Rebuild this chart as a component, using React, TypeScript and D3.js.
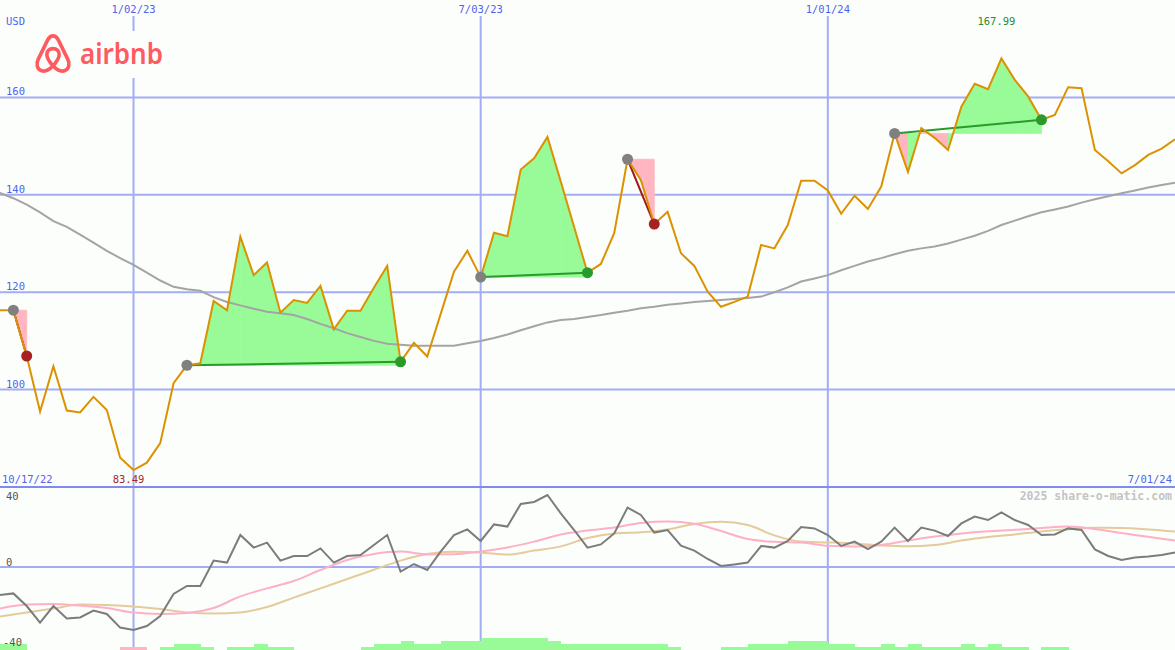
import React from "react";
import * as d3 from "d3";

// ---------- DATA ----------
const startDate = new Date(2022, 9, 24);
const endDate = new Date(2024, 6, 1);

// weekly closing prices (USD)
const price = [
  116.3, 116.3, 106.9, 95.5, 104.8, 95.7, 95.3, 98.5, 95.8, 86.0,
  83.49, 85.0, 89.0, 101.3, 105.0, 105.4, 118.2, 116.3, 131.4, 123.5,
  126.1, 115.8, 118.4, 117.8, 121.3, 112.4, 116.2, 116.2, 120.9, 125.4,
  105.7, 109.6, 106.8, 115.5, 124.2, 128.5, 123.1, 132.2, 131.5, 145.2,
  147.5, 151.9, 142.7, 133.4, 124.0, 125.8, 132.1, 147.3, 143.0, 134.0,
  136.5, 128.0, 125.4, 120.1, 117.0, 118.0, 119.1, 129.7, 129.0, 133.8,
  142.9, 142.9, 140.9, 136.1, 139.8, 137.1, 141.7, 152.6, 144.7, 153.7,
  151.7, 149.2, 158.1, 162.8, 161.7, 167.99, 163.6, 160.2, 155.4, 156.4,
  162.1, 161.9, 149.2, 146.9, 144.4, 146.1, 148.2, 149.5, 151.4,
];

// long moving average (weekly)
const movingAvg = [
  140.4, 139.3, 138.0, 136.4, 134.6, 133.4, 131.8, 130.2, 128.5, 127.0,
  125.6, 124.0, 122.4, 121.1, 120.6, 120.3, 119.0, 118.0, 117.3, 116.6,
  116.0, 115.7, 115.3, 114.5, 113.5, 112.6, 111.6, 110.8, 110.0, 109.4,
  109.2, 109.0, 109.0, 109.0, 109.0, 109.5, 110.0, 110.6, 111.3, 112.2,
  113.0, 113.8, 114.3, 114.5, 114.9, 115.3, 115.8, 116.2, 116.7, 117.0,
  117.4, 117.7, 118.0, 118.2, 118.4, 118.6, 118.8, 119.1, 120.0, 121.0,
  122.2, 122.8, 123.5, 124.5, 125.4, 126.3, 127.0, 127.8, 128.5, 129.0,
  129.4, 130.0, 130.8, 131.6, 132.6, 133.8, 134.7, 135.6, 136.4, 137.0,
  137.6, 138.4, 139.1, 139.7, 140.3, 140.9, 141.5, 142.0, 142.5,
];

// oscillator (weekly)
const momentum = [
  -14, -13.2, -19.5, -27.8, -19.5, -25.7, -25.2, -21.8, -23.5, -30.3,
  -31.5, -29.5, -24.5, -13.5, -9.5, -9.5, 3.2, 2.2, 16, 9.7,
  12.2, 3.2, 5.5, 5.5, 9.3, 2.2, 5.5, 6, 11, 16,
  -2.3, 1.5, -1.5, 7.7, 16, 18.8, 13, 21.3, 20.2, 31.5,
  32.5, 36, 26.8, 18.5, 9.7, 11.3, 16.8, 29.7, 26, 17.2,
  18.5, 10.7, 8.2, 4, 0.5, 1.3, 2.2, 10.5, 9.7, 13,
  20, 19.3, 16, 10.5, 12.7, 9, 12.7, 19.7, 13, 19.7,
  18.2, 15.5, 21.8, 25.2, 23.5, 27.3, 23.5, 21, 16, 16.3,
  19.3, 18.5, 8.8, 5.5, 3.5, 4.7, 5.2, 6, 7.2,
];

// smoothed signal lines, one value every 2 weeks
const pinkSignal = [
  -20.7, -18.8, -18.5, -19.3, -20.5, -22.8, -23.5, -23.0, -20.5, -14.7,
  -10.7, -7.0, -1.5, 3.5, 6.5, 7.7, 6.3, 6.4, 7.8, 9.8,
  12.7, 16.3, 18.2, 19.8, 22.0, 22.7, 21.6, 18.0, 14.0, 12.6,
  12.2, 10.6, 10.2, 11.0, 13.2, 15.2, 16.8, 17.9, 18.6, 19.5,
  20.2, 19.0, 17.0, 15.1, 13.2,
];
const tanSignal = [
  -24.8, -22.8, -20.8, -18.8, -19.0, -19.8, -21.0, -22.7, -23.2, -22.7,
  -20.0, -15.3, -10.7, -6.0, -1.4, 3.2, 6.5, 7.6, 7.3, 6.2,
  8.2, 10.3, 14.5, 16.8, 17.4, 18.8, 21.5, 22.6, 21.0, 15.8,
  12.7, 12.3, 11.8, 10.8, 10.4, 11.0, 13.2, 15.0, 16.3, 17.8,
  18.8, 19.6, 19.5, 18.8, 17.7,
];

// histogram at bottom (weekly)
const histogram = [
  2, 2, 0, 0, 0, 0, 0, 0, 0, -1,
  -1, 0, 1, 2, 2, 1, 0, 1, 1, 2,
  1, 1, 0, 0, 0, 0, 0, 1, 2, 2,
  3, 2, 2, 3, 3, 3, 4, 4, 4, 4,
  4, 3, 2, 2, 2, 2, 2, 2, 2, 2,
  1, 0, 0, 0, 1, 1, 2, 2, 2, 3,
  3, 3, 2, 2, 1, 1, 2, 1, 2, 1,
  1, 1, 2, 1, 2, 1, 1, 0, 1, 1,
  0, 0, 0, 0, 0, 0, 0, 0, 0,
];

// trades (week indices)
const tradeEntries = [1, 14, 36, 47, 67];
const tradeExits = [2, 30, 44, 49, 78];

const tickDates = [new Date(2023, 0, 2), new Date(2023, 6, 3), new Date(2024, 0, 1)];
const tickLabels = ["1/02/23", "7/03/23", "1/01/24"];
const priceTicks = [100, 120, 140, 160];
const oscTicks = [40, 0, -40];
const startLabel = "10/17/22";
const endLabel = "7/01/24";

// ---------- STYLE ----------
const W = 1175;
const H = 650;
const BG = "#fcfefc";
const GRID = "#a3aef2";
const SEP = "#7f8cee";
const BLUE_TXT = "#4f63ee";
const MONO = "'DejaVu Sans Mono', monospace";

export default function App() {
  const dates = price.map((_, i) => d3.timeDay.offset(startDate, 7 * i));
  const x = d3.scaleTime().domain([startDate, endDate]).range([0, W]);
  const y = d3.scaleLinear().domain([80, 180]).range([487, 0]);
  const yo = d3.scaleLinear().domain([-40, 40]).range([647, 487]);
  const yh = d3.scaleLinear().domain([0, 4]).range([650, 638]);

  const priceLine = d3
    .line<number>()
    .x((_, i) => x(dates[i]))
    .y((d) => y(d));
  const maLine = d3
    .line<number>()
    .x((_, i) => x(dates[i]))
    .y((d) => y(d));
  const momLine = d3
    .line<number>()
    .x((_, i) => x(dates[i]))
    .y((d) => yo(d));
  const sigLine = d3
    .line<number>()
    .x((_, i) => x(dates[i * 2]))
    .y((d) => yo(d))
    .curve(d3.curveMonotoneX);

  const minIdx = d3.minIndex(price);
  const maxIdx = d3.maxIndex(price);
  const fmt = d3.format(".2f");

  const fills: { pts: string; color: string }[] = [];
  tradeEntries.forEach((e, t) => {
    const ex = tradeExits[t];
    const lvl = price[e];
    for (let k = e; k < ex; k++) {
      const pts = [
        [x(dates[k]), y(price[k])],
        [x(dates[k + 1]), y(price[k + 1])],
        [x(dates[k + 1]), y(lvl)],
        [x(dates[k]), y(lvl)],
      ]
        .map((p) => p.join(","))
        .join(" ");
      fills.push({ pts, color: price[k + 1] >= lvl ? "#98fb98" : "#ffb6c1" });
    }
  });

  const bw = x(dates[1]) - x(dates[0]);

  return (
    <svg
      width={W}
      height={H}
      style={{ position: "absolute", left: 0, top: 0, display: "block" }}
    >
      <rect x={0} y={0} width={W} height={H} fill={BG} />

      {/* vertical grid */}
      {tickDates.map((d, i) => (
        <line key={"v" + i} x1={x(d)} x2={x(d)} y1={16} y2={H} stroke={GRID} strokeWidth={2} />
      ))}
      {/* horizontal price grid */}
      {priceTicks.map((v) => (
        <line key={"h" + v} x1={0} x2={W} y1={y(v)} y2={y(v)} stroke={GRID} strokeWidth={2} />
      ))}
      {/* oscillator zero line */}
      <line x1={0} x2={W} y1={yo(0)} y2={yo(0)} stroke={GRID} strokeWidth={2} />
      {/* panel separator */}
      <line x1={0} x2={W} y1={yo(40)} y2={yo(40)} stroke={SEP} strokeWidth={2} />

      {/* trade fills */}
      {fills.map((f, i) => (
        <polygon
          key={"f" + i}
          points={f.pts}
          fill={f.color}
          stroke={f.color}
          strokeWidth={0.8}
          strokeLinejoin="round"
        />
      ))}

      {/* moving average */}
      <path d={maLine(movingAvg) || ""} fill="none" stroke="#a4a4a4" strokeWidth={2} />

      {/* trade lines */}
      {tradeEntries.map((e, t) => {
        const ex = tradeExits[t];
        const win = price[ex] >= price[e];
        return (
          <line
            key={"tl" + t}
            x1={x(dates[e])}
            y1={y(price[e])}
            x2={x(dates[ex])}
            y2={y(price[ex])}
            stroke={win ? "#2a9a2a" : "#a01c1c"}
            strokeWidth={2}
          />
        );
      })}

      {/* price line */}
      <path d={priceLine(price) || ""} fill="none" stroke="#dc9200" strokeWidth={2} />

      {/* trade dots */}
      {tradeEntries.map((e, t) => {
        const ex = tradeExits[t];
        const win = price[ex] >= price[e];
        return (
          <g key={"td" + t}>
            <circle cx={x(dates[e])} cy={y(price[e])} r={5.5} fill="#808080" />
            <circle
              cx={x(dates[ex])}
              cy={y(price[ex])}
              r={5.5}
              fill={win ? "#2a9a2a" : "#a52222"}
            />
          </g>
        );
      })}

      {/* oscillator lines */}
      <path d={sigLine(tanSignal) || ""} fill="none" stroke="#e4cb9c" strokeWidth={2} />
      <path d={sigLine(pinkSignal) || ""} fill="none" stroke="#fdb0c6" strokeWidth={2} />
      <path d={momLine(momentum) || ""} fill="none" stroke="#7c7c7c" strokeWidth={2} />

      {/* histogram */}
      {histogram.map((v, i) =>
        v === 0 ? null : (
          <rect
            key={"b" + i}
            x={x(dates[i])}
            y={yh(Math.abs(v))}
            width={bw + 0.5}
            height={yh(0) - yh(Math.abs(v))}
            fill={v > 0 ? "#98fb98" : "#ffb6c1"}
            shapeRendering="crispEdges"
          />
        )
      )}

      {/* logo */}
      <rect x={28} y={31} width={145} height={47} fill={BG} />
      <g transform="translate(34,33) scale(0.95)" fill="none" stroke="#ff5a5f" strokeWidth={3.8} strokeLinejoin="round">
        <path d="M20,3 C17.5,3 15.8,4.5 14.3,7.5 L4.5,27.5 C2,32.5 3,38 8,39.8 C12,41.2 16,38.8 20,34.5 C24,38.8 28,41.2 32,39.8 C37,38 38,32.5 35.5,27.5 L25.7,7.5 C24.2,4.5 22.5,3 20,3 Z" />
        <path d="M20,34.5 C16,30 13.5,26 13.5,22.5 C13.5,18.8 16.3,16.5 20,16.5 C23.7,16.5 26.5,18.8 26.5,22.5 C26.5,26 24,30 20,34.5 Z" />
      </g>
      <text
        x={80}
        y={64}
        fontFamily="'Noto Sans', sans-serif"
        fontWeight={600}
        fontSize={28}
        fill="#ff5a5f"
        textLength={83}
        lengthAdjust="spacingAndGlyphs"
      >
        airbnb
      </text>

      {/* text labels */}
      <g fontFamily={MONO} fontSize={10.5}>
        <text x={6} y={25} fill={BLUE_TXT}>USD</text>
        {tickDates.map((d, i) => (
          <text key={"tt" + i} x={x(d)} y={13} textAnchor="middle" fill={BLUE_TXT}>
            {tickLabels[i]}
          </text>
        ))}
        {priceTicks.map((v) => (
          <text key={"pt" + v} x={6} y={y(v) - 2} fill={BLUE_TXT}>
            {v}
          </text>
        ))}
        <text x={2} y={483} fill={BLUE_TXT}>{startLabel}</text>
        <text x={1172} y={483} textAnchor="end" fill={BLUE_TXT}>{endLabel}</text>
        <text x={x(dates[minIdx]) - 5} y={483} textAnchor="middle" fill="#a52a2a">
          {fmt(price[minIdx])}
        </text>
        <text x={x(dates[maxIdx]) - 5} y={25} textAnchor="middle" fill="#2a8a2a">
          {fmt(price[maxIdx])}
        </text>
        {oscTicks.map((v) => (
          <text
            key={"ot" + v}
            x={v < 0 ? 3 : 6}
            y={v === 40 ? 500 : yo(v) - 1}
            fill="#555"
          >
            {v}
          </text>
        ))}
      </g>
      <text
        x={1172}
        y={500}
        textAnchor="end"
        fontFamily={MONO}
        fontWeight="bold"
        fontSize={11.5}
        fill="#c4c4c4"
      >
        2025 share-o-matic.com
      </text>
    </svg>
  );
}
